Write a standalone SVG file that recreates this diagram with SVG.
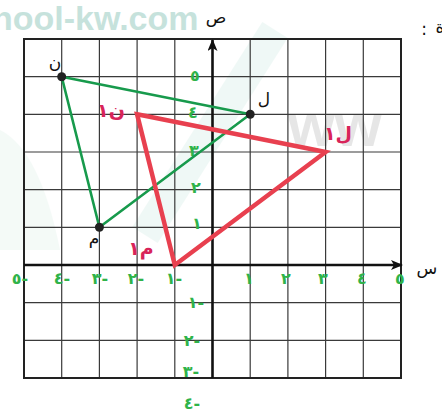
<svg xmlns="http://www.w3.org/2000/svg" width="442" height="414" viewBox="0 0 442 414">
<style>
.g{stroke:#3a3a3a;stroke-width:1.2;fill:none}
.gb{stroke:#222;stroke-width:2;fill:none}
.ax{stroke:#111;stroke-width:2.6;fill:none}
.lbl{font-family:"DejaVu Sans",sans-serif;font-size:16px;font-weight:bold;fill:#2fb34a;text-anchor:middle;dominant-baseline:central}
.blk{font-family:"DejaVu Sans",sans-serif;font-size:17px;fill:#111;text-anchor:middle;dominant-baseline:central}
.red{font-family:"DejaVu Sans",sans-serif;font-size:19px;font-weight:bold;fill:#d8245a;text-anchor:middle;dominant-baseline:central}
.gt{stroke:#179a4c;stroke-width:2.6;fill:none;stroke-linejoin:round}
.rt{stroke:#e8404f;stroke-width:4.5;fill:none;stroke-linejoin:miter}
</style>
<defs>
<marker id="ah" viewBox="0 0 12 10" refX="11" refY="5" markerWidth="12" markerHeight="10" markerUnits="userSpaceOnUse" orient="auto">
<path d="M0,0 L12,5 L0,10 L3,5 Z" fill="#111"/>
</marker>
</defs>
<rect width="442" height="414" fill="#fff"/>
<g id="watermark" opacity="0.5">
<text x="-8" y="30" font-family="Liberation Sans,sans-serif" font-size="34" font-weight="bold" fill="#8ec7bb">hool-kw.com</text>
<text x="288" y="146" font-family="Liberation Sans,sans-serif" font-size="60" font-weight="bold" fill="#cfcfcf">ww</text>
<path d="M145,235 L275,30" stroke="#cdebe2" stroke-width="30" fill="none" opacity="0.6"/>
<path d="M0,130 Q40,150 60,250 L0,250 Z" fill="#d6ede4" opacity="0.5"/>
</g>
<g id="grid">
<path class="g" d="M61.7,39V378M99.4,39V378M137.1,39V378M174.8,39V378M250.2,39V378M287.9,39V378M325.6,39V378M363.3,39V378"/>
<path class="g" d="M24,76.7H401M24,114.3H401M24,152H401M24,189.7H401M24,227.3H401M24,302.7H401M24,340.3H401"/>
<rect class="gb" x="24" y="39" width="377" height="339"/>
</g>
<g id="axes">
<path class="ax" d="M24,265H402" marker-end="url(#ah)"/>
<path class="ax" d="M212.5,378V40" marker-end="url(#ah)"/>
<text class="blk" x="427" y="268" font-size="24">س</text>
<text class="blk" x="216" y="17" font-size="24">ص</text>
<text class="blk" x="424" y="29" font-size="20">:</text>
<text class="blk" x="440" y="27" font-size="22">ة</text>
</g>
<g id="x-labels">
<text class="lbl" x="20" y="278">٥-</text>
<text class="lbl" x="62" y="278">٤-</text>
<text class="lbl" x="100" y="278">٣-</text>
<text class="lbl" x="136" y="278">٢-</text>
<text class="lbl" x="174" y="278">١-</text>
<text class="lbl" x="249" y="278">١</text>
<text class="lbl" x="286" y="278">٢</text>
<text class="lbl" x="323" y="278">٣</text>
<text class="lbl" x="362" y="278">٤</text>
<text class="lbl" x="400" y="278">٥</text>
</g>
<g id="y-labels">
<text class="lbl" x="195" y="75">٥</text>
<text class="lbl" x="193" y="112">٤</text>
<text class="lbl" x="194" y="150">٣</text>
<text class="lbl" x="196" y="187">٢</text>
<text class="lbl" x="197" y="223">١</text>
<text class="lbl" x="196" y="302">١-</text>
<text class="lbl" x="192" y="340">٢-</text>
<text class="lbl" x="191" y="371">٣-</text>
<text class="lbl" x="192" y="403">٤-</text>
</g>
<g id="connectors">
<path class="gt" d="M61.7,76.7 L250.2,114.3 L99.4,227.3 Z"/>
<path class="rt" d="M137.1,114.3 L325.6,152 L174.8,265 Z"/>
</g>
<g id="node-N">
<circle cx="61.7" cy="76.7" r="4.5" fill="#222"/>
<text class="blk" x="55" y="62">ن</text>
</g>
<g id="node-L">
<circle cx="250.2" cy="114.3" r="4.5" fill="#222"/>
<text class="blk" x="264" y="99">ل</text>
</g>
<g id="node-M">
<circle cx="99.4" cy="227.3" r="4.5" fill="#222"/>
<text class="blk" x="94" y="238">م</text>
</g>
<g id="node-N1">
<text class="red" x="111" y="110">ن١</text>
</g>
<g id="node-L1">
<text class="red" x="338" y="133">ل١</text>
</g>
<g id="node-M1">
<text class="red" x="141" y="248">م١</text>
</g>
</svg>
